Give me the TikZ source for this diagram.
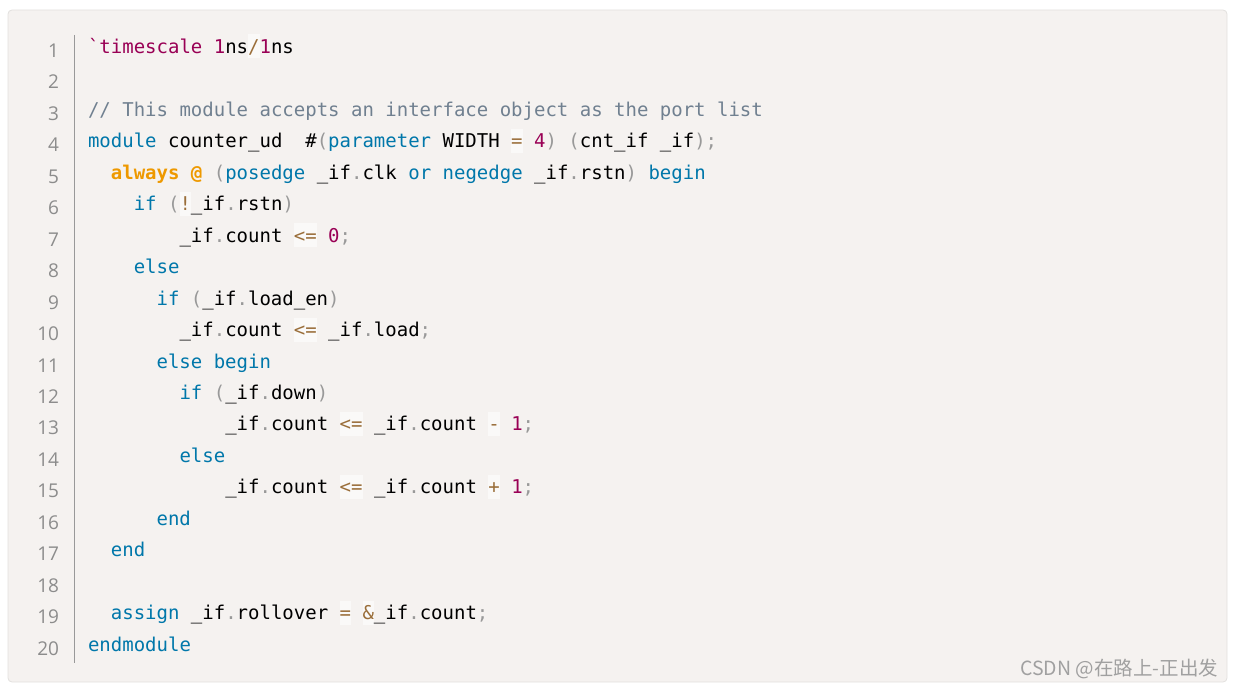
\documentclass[tikz,border=0pt]{standalone}
\usepackage{fontspec}
\usepackage{tikz}
\newfontfamily\codefont{DejaVu Sans Mono}
\newfontfamily\numfont{Open Sans}
\newfontfamily\cjkfont{Noto Sans CJK SC}
\definecolor{cf5f2f0}{RGB}{245,242,240}
\definecolor{ce2e0de}{RGB}{226,224,222}
\definecolor{c999999}{RGB}{153,153,153}
\definecolor{c8c8c8c}{RGB}{140,140,140}
\definecolor{c0077aa}{RGB}{0,119,170}
\definecolor{c990055}{RGB}{153,0,85}
\definecolor{c9a6e3a}{RGB}{154,110,58}
\definecolor{c708090}{RGB}{112,128,144}
\definecolor{cee9900}{RGB}{238,153,0}
\definecolor{cfaf8f7}{RGB}{250,249,248}
\definecolor{ca0a0a0}{RGB}{160,160,160}
\newcommand{\kw}[1]{\textcolor{c0077aa}{#1}}
\newcommand{\pn}[1]{\textcolor{c999999}{#1}}
\newcommand{\nm}[1]{\textcolor{c990055}{#1}}
\newcommand{\im}[1]{\textcolor{cee9900}{\bfseries #1}}
\newcommand{\op}[1]{{\setlength{\fboxsep}{0pt}\colorbox{cfaf8f7}{\rule[-5pt]{0pt}{24pt}\textcolor{c9a6e3a}{#1}}}}

\begin{document}
\begin{tikzpicture}[y=1pt,x=1pt,yscale=-1, inner sep=0pt, outer sep=0pt,
  code/.style={anchor=base west,text=black,font=\codefont\fontsize{19}{19}\selectfont},
  linenum/.style={anchor=base east,text=c8c8c8c,font=\numfont\fontsize{19}{19}\selectfont}]
  \useasboundingbox (0,0) rectangle (1234,687);
  \path[draw=ce2e0de,fill=cf5f2f0,rounded corners=4pt,line width=0.8pt]
    (8,10) rectangle (1227,682);
  \path[draw=c999999,line width=1pt] (74,35) -- (74,663);
  % line numbers
  \path (59,57.3) node[linenum] (num01) {1};
  \path (59,88.8) node[linenum] (num02) {2};
  \path (59,120.2) node[linenum] (num03) {3};
  \path (59,151.7) node[linenum] (num04) {4};
  \path (59,183.2) node[linenum] (num05) {5};
  \path (59,214.7) node[linenum] (num06) {6};
  \path (59,246.1) node[linenum] (num07) {7};
  \path (59,277.6) node[linenum] (num08) {8};
  \path (59,309.1) node[linenum] (num09) {9};
  \path (59,340.5) node[linenum] (num10) {10};
  \path (59,372.0) node[linenum] (num11) {11};
  \path (59,403.5) node[linenum] (num12) {12};
  \path (59,434.9) node[linenum] (num13) {13};
  \path (59,466.4) node[linenum] (num14) {14};
  \path (59,497.9) node[linenum] (num15) {15};
  \path (59,529.4) node[linenum] (num16) {16};
  \path (59,560.8) node[linenum] (num17) {17};
  \path (59,592.3) node[linenum] (num18) {18};
  \path (59,623.8) node[linenum] (num19) {19};
  \path (59,655.2) node[linenum] (num20) {20};
  % code lines
  \path (88,53.3) node[code] (text01)
    {\nm{\char"0060timescale} \nm{1}ns\op{/}\nm{1}ns};
  \path (88,116.2) node[code] (text03)
    {\textcolor{c708090}{// This module accepts an interface object as the port list}};
  \path (88,147.7) node[code] (text04)
    {\kw{module} counter\_ud\ \ \#\pn{(}\kw{parameter} WIDTH \op{=} \nm{4}\pn{)} \pn{(}cnt\_if \_if\pn{)}\pn{;}};
  \path (110.9,179.2) node[code] (text05)
    {\im{always} \im{@} \pn{(}\kw{posedge} \_if\pn{.}clk \kw{or} \kw{negedge} \_if\pn{.}rstn\pn{)} \kw{begin}};
  \path (133.8,210.7) node[code] (text06)
    {\kw{if} \pn{(}\op{!}\_if\pn{.}rstn\pn{)}};
  \path (179.5,242.1) node[code] (text07)
    {\_if\pn{.}count \op{<=} \nm{0}\pn{;}};
  \path (133.8,273.6) node[code] (text08) {\kw{else}};
  \path (156.6,305.1) node[code] (text09)
    {\kw{if} \pn{(}\_if\pn{.}load\_en\pn{)}};
  \path (179.5,336.5) node[code] (text10)
    {\_if\pn{.}count \op{<=} \_if\pn{.}load\pn{;}};
  \path (156.6,368.0) node[code] (text11) {\kw{else} \kw{begin}};
  \path (179.5,399.5) node[code] (text12)
    {\kw{if} \pn{(}\_if\pn{.}down\pn{)}};
  \path (225.3,430.9) node[code] (text13)
    {\_if\pn{.}count \op{<=} \_if\pn{.}count \op{-} \nm{1}\pn{;}};
  \path (179.5,462.4) node[code] (text14) {\kw{else}};
  \path (225.3,493.9) node[code] (text15)
    {\_if\pn{.}count \op{<=} \_if\pn{.}count \op{+} \nm{1}\pn{;}};
  \path (156.6,525.4) node[code] (text16) {\kw{end}};
  \path (110.9,556.8) node[code] (text17) {\kw{end}};
  \path (110.9,619.8) node[code] (text19)
    {\kw{assign} \_if\pn{.}rollover \op{=} \op{\&}\_if\pn{.}count\pn{;}};
  \path (88,651.2) node[code] (text20) {\kw{endmodule}};
  % watermark
  \path (1218,675) node[anchor=base east,text=ca0a0a0,font=\cjkfont\fontsize{19.5}{19.5}\selectfont] (mark)
    {CSDN @在路上-正出发};
\end{tikzpicture}
\end{document}
